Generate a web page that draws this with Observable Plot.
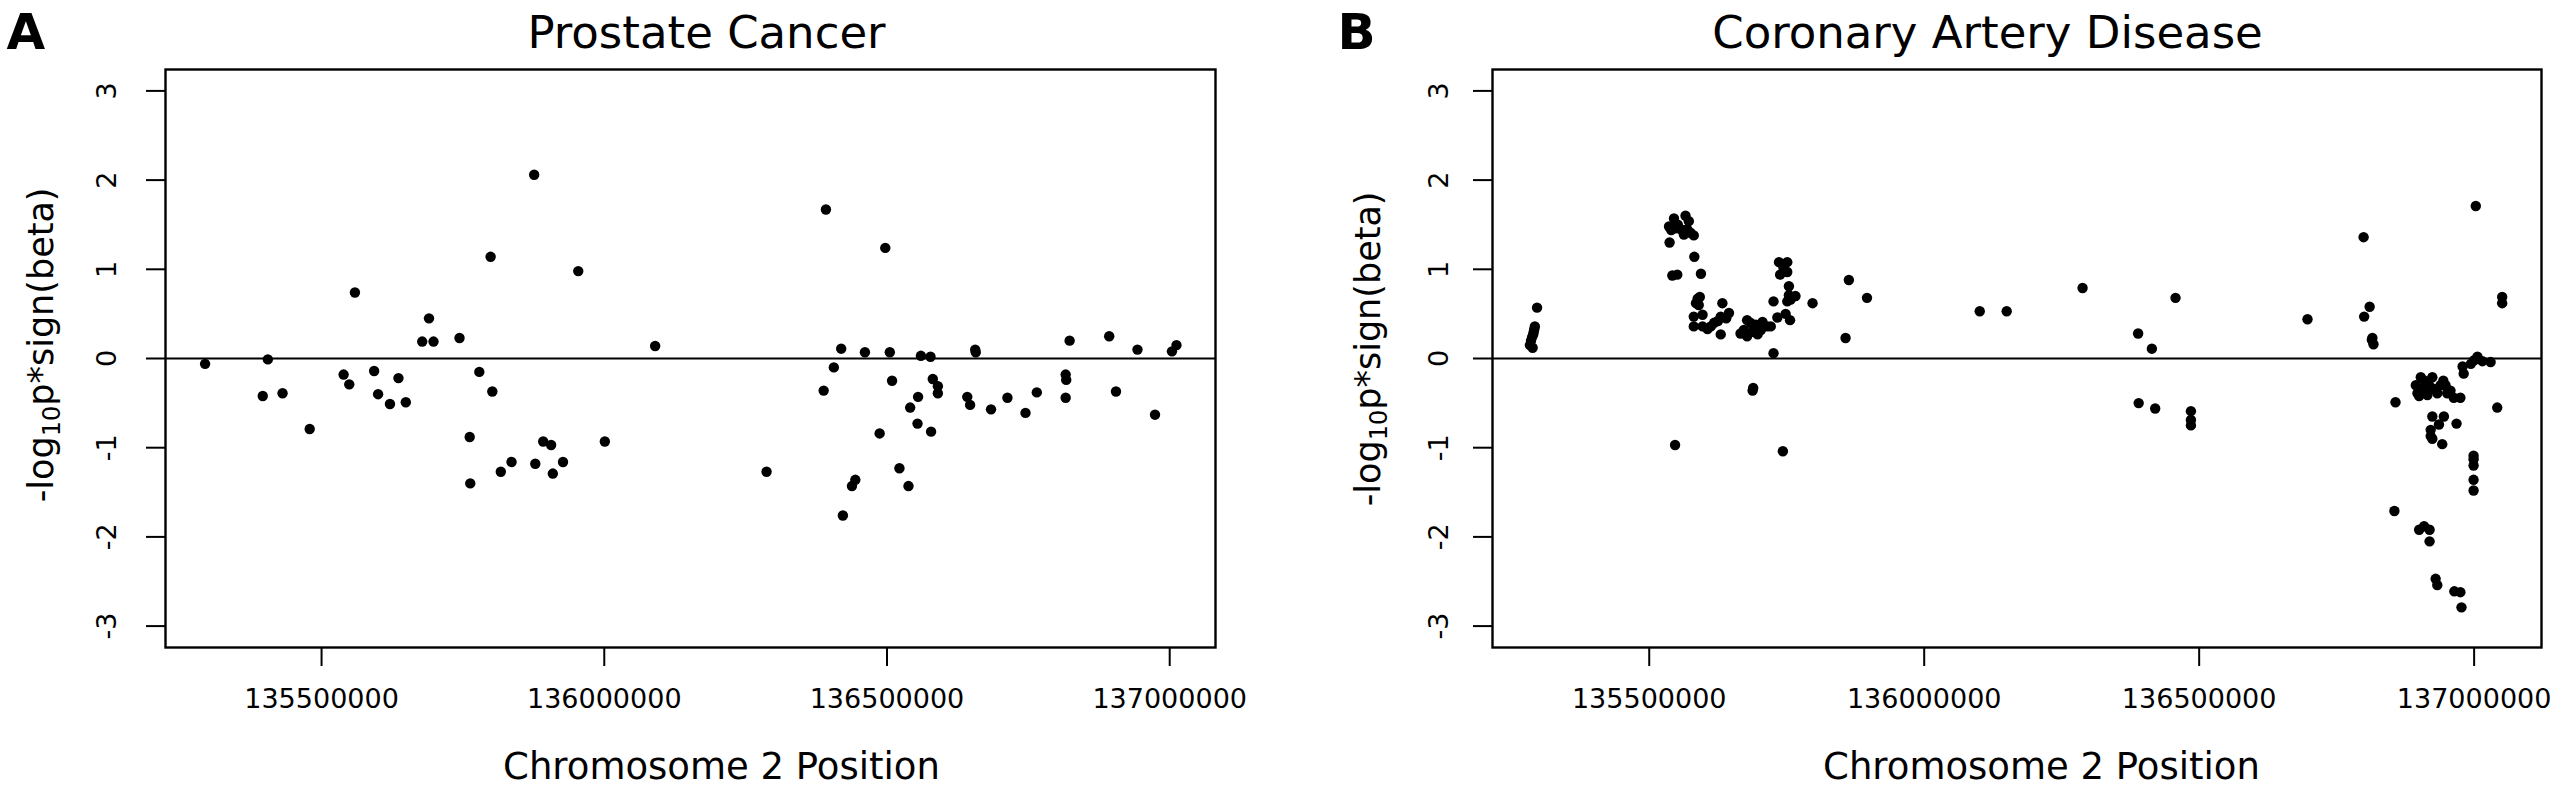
<!DOCTYPE html>
<html><head><meta charset="utf-8">
<script src="https://cdn.jsdelivr.net/npm/d3@7"></script>
<script src="https://cdn.jsdelivr.net/npm/@observablehq/plot@0.6"></script>
<style>
html,body{margin:0;padding:0;background:#fff;}
#wrap{display:flex;width:2559px;height:789px;overflow:hidden;}
#wrap svg{flex:none;}
</style></head><body><div id="wrap"></div>
<script>
const xTicks = [135500000, 136000000, 136500000, 137000000];
const yTicks = [-3, -2, -1, 0, 1, 2, 3];
const titles = ["Prostate Cancer", "Coronary Artery Disease"];
const panelLetters = ["A", "B"];
const xLabel = "Chromosome 2 Position";
const yLabel = "-log10p*sign(beta)";

// [position (bp), -log10 p * sign(beta)]
const prostatePoints = [
  [135294000,-0.06],[135405000,-0.01],[135396000,-0.42],[135431000,-0.39],[135479000,-0.79],
  [135539000,-0.18],[135549000,-0.29],[135559000,0.74],[135593000,-0.14],[135600000,-0.40],
  [135636000,-0.22],[135621000,-0.51],[135649000,-0.49],[135678000,0.19],[135690000,0.45],
  [135698000,0.19],[135744000,0.23],[135779000,-0.15],[135802000,-0.37],[135762000,-0.88],
  [135763000,-1.40],[135799000,1.14],[135876000,2.06],[135817000,-1.27],[135836000,-1.16],
  [135878000,-1.18],[135892000,-0.93],[135906000,-0.97],[135909000,-1.29],[135927000,-1.16],
  [135954000,0.98],[136001000,-0.93],[136090000,0.14],[136287000,-1.27],[136392000,1.67],
  [136388000,-0.36],[136406000,-0.10],[136419000,0.11],[136461000,0.07],[136505000,0.07],
  [136497000,1.24],[136509000,-0.25],[136487000,-0.84],[136422000,-1.76],[136444000,-1.36],
  [136438000,-1.43],[136522000,-1.23],[136538000,-1.43],[136541000,-0.55],[136555000,-0.43],
  [136554000,-0.73],[136560000,0.03],[136577000,0.02],[136581000,-0.23],[136590000,-0.31],
  [136590000,-0.39],[136578000,-0.82],[136656000,0.10],[136657000,0.07],[136642000,-0.43],
  [136647000,-0.52],[136684000,-0.57],[136713000,-0.44],[136745000,-0.61],[136765000,-0.38],
  [136816000,-0.18],[136817000,-0.24],[136816000,-0.44],[136823000,0.20],[136893000,0.25],
  [136905000,-0.37],[136943000,0.10],[136974000,-0.63],[137004000,0.08],[137012000,0.15]
];

const cadPoints = [
  [135283000,0.15],[135285000,0.20],[135287000,0.24],[135289000,0.27],[135291000,0.33],
  [135288000,0.12],[135296000,0.57],[135290000,0.30],[135292000,0.36],
  [135536000,1.48],[135545000,1.57],[135548000,1.46],[135566000,1.60],[135572000,1.54],
  [135563000,1.39],[135581000,1.38],[135537000,1.30],[135557000,1.45],[135575000,1.41],
  [135540000,1.44],[135552000,1.50],[135569000,1.45],
  [135582000,1.14],[135594000,0.95],[135542000,0.93],[135551000,0.94],[135547000,-0.97],
  [135588000,0.67],[135592000,0.69],[135585000,0.62],[135590000,0.60],
  [135581000,0.47],[135597000,0.49],[135581000,0.36],[135597000,0.36],[135612000,0.36],
  [135618000,0.40],[135630000,0.47],[135633000,0.62],[135645000,0.51],[135630000,0.27],
  [135606000,0.33],[135640000,0.45],[135625000,0.42],
  [135666000,0.28],[135672000,0.32],[135678000,0.43],[135678000,0.25],[135684000,0.40],
  [135690000,0.36],[135697000,0.27],[135703000,0.32],[135706000,0.41],[135715000,0.36],
  [135721000,0.36],[135688000,0.30],[135694000,0.38],
  [135726000,0.06],[135688000,-0.36],[135689000,-0.33],[135743000,-1.04],[135726000,0.64],
  [135736000,1.08],[135751000,1.08],[135738000,0.94],[135751000,0.97],[135744000,1.02],
  [135754000,0.81],[135754000,0.71],[135757000,0.66],[135766000,0.70],[135751000,0.64],
  [135733000,0.46],[135748000,0.50],[135756000,0.43],
  [135797000,0.62],[135863000,0.88],[135857000,0.23],[135896000,0.68],
  [136101000,0.53],[136150000,0.53],[136288000,0.79],[136389000,0.28],[136414000,0.11],
  [136457000,0.68],[136390000,-0.50],[136420000,-0.56],[136485000,-0.59],[136485000,-0.69],
  [136485000,-0.75],
  [136697000,0.44],[136799000,1.36],[136810000,0.58],[136800000,0.47],[136815000,0.23],
  [136817000,0.16],[136814000,0.21],
  [137003000,1.71],[137051000,0.69],[137051000,0.62],[137042000,-0.55],[136857000,-0.49],
  [136855000,-1.71],
  [136979000,-0.09],[136981000,-0.17],[137006000,0.02],[137015000,-0.03],[137030000,-0.04],
  [136994000,-0.06],[137000000,-0.02],
  [136894000,-0.30],[136903000,-0.21],[136897000,-0.39],[136915000,-0.41],[136924000,-0.21],
  [136927000,-0.34],[136939000,-0.30],[136948000,-0.30],[136951000,-0.39],[136963000,-0.44],
  [136975000,-0.44],[136906000,-0.34],[136933000,-0.39],[136957000,-0.36],[136910000,-0.25],
  [136918000,-0.30],[136944000,-0.25],[136900000,-0.42],
  [136924000,-0.65],[136945000,-0.65],[136936000,-0.74],[136968000,-0.73],[136921000,-0.80],
  [136921000,-0.87],[136924000,-0.90],[136942000,-0.96],
  [136999000,-1.09],[136999000,-1.13],[136999000,-1.20],[136999000,-1.36],[136999000,-1.48],
  [136900000,-1.92],[136909000,-1.88],[136919000,-1.92],[136919000,-2.05],
  [136930000,-2.47],[136933000,-2.54],
  [136964000,-2.61],[136975000,-2.62],[136977000,-2.79]
];

const panels = [
  {points: prostatePoints, title: titles[0], letter: panelLetters[0], width: 1280,
   marginLeft: 165, marginRight: 65, xDomain: [135224000, 137081000],
   yTickPad: 31, titleDx: 16, xLabelDx: 31, letterDx: -159, yLabelDy: -13.6},
  {points: cadPoints, title: titles[1], letter: panelLetters[1], width: 1279,
   marginLeft: 212, marginRight: 18, xDomain: [135215000, 137122500],
   yTickPad: 26, titleDx: -29.5, xLabelDx: 24.5, letterDx: -155, yLabelDy: -9.6}
];

const FONT = "DejaVu Sans";
const wrap = document.getElementById("wrap");

for (const p of panels) {
  const chart = Plot.plot({
    width: p.width,
    height: 789,
    marginLeft: p.marginLeft,
    marginRight: p.marginRight,
    marginTop: 69,
    marginBottom: 142,
    style: {fontFamily: FONT, fontSize: "27px", background: "white", color: "black", overflow: "visible"},
    x: {domain: p.xDomain},
    y: {domain: [-3.24, 3.24]},
    marks: [
      Plot.ruleY([0], {stroke: "black", strokeWidth: 2}),
      Plot.dot(p.points, {x: d => d[0], y: d => d[1], r: 5.2, fill: "black", stroke: "none"}),
      Plot.frame({stroke: "black", strokeWidth: 2.4}),
      Plot.axisX({ticks: xTicks, tickFormat: d => String(d), tickSize: 19, tickPadding: 22,
                  fontSize: 27, label: null, strokeWidth: 2}),
      Plot.axisY({ticks: yTicks, tickFormat: d => String(d), tickSize: 19, tickPadding: p.yTickPad,
                  tickRotate: -90, fontSize: 27, label: null, strokeWidth: 2}),
      Plot.text([xLabel], {frameAnchor: "bottom", lineAnchor: "bottom", dx: p.xLabelDx, dy: 131,
                           fontSize: 37, text: d => d}),
      Plot.text([yLabel], {frameAnchor: "left", lineAnchor: "bottom", textAnchor: "middle", rotate: -90,
                           dx: -113, dy: p.yLabelDy, fontSize: 35, text: d => d}),
      Plot.text([p.title], {frameAnchor: "top", lineAnchor: "bottom", dx: p.titleDx, dy: -21.6,
                            fontSize: 45, text: d => d}),
      Plot.text([p.letter], {frameAnchor: "top-left", lineAnchor: "bottom", textAnchor: "start",
                             dx: p.letterDx, dy: -20.6, fontSize: 50, fontWeight: "bold", text: d => d})
    ]
  });
  // subscript "10" in the y label
  d3.select(chart).selectAll("text").each(function () {
    if (this.textContent === yLabel) {
      const t = d3.select(this);
      t.text(null);
      t.append("tspan").text("-log");
      t.append("tspan").attr("font-size", 24).attr("dy", 7).text("10");
      t.append("tspan").attr("dy", -7).text("p*sign(beta)");
    }
  });
  wrap.appendChild(chart);
}
</script>
</body></html>
